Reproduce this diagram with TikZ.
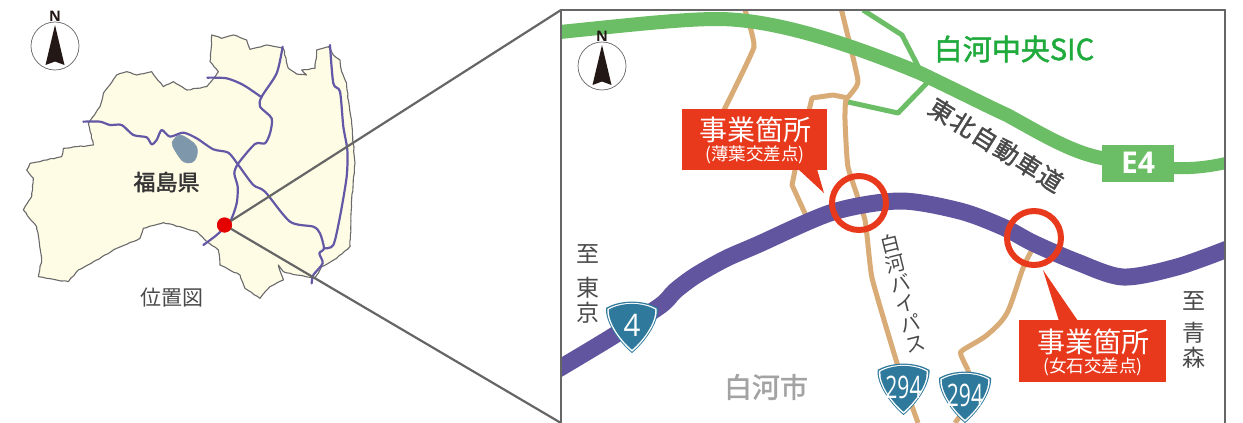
\documentclass[tikz,border=0pt]{standalone}
\usepackage{fontspec}
\usepackage{graphicx}
\setmainfont{Noto Sans CJK JP}
\newfontfamily\latinf{Open Sans}
\newfontfamily\cjkmed[FakeBold=1.6]{Noto Sans CJK JP}
\usetikzlibrary{decorations.pathmorphing}
\definecolor{prefyellow}{HTML}{FFFCE6}
\definecolor{coast}{HTML}{6A6A6A}
\definecolor{routeblue}{HTML}{6358A6}
\definecolor{lake}{HTML}{7F97AA}
\definecolor{framegray}{HTML}{666666}
\definecolor{egreen}{HTML}{6CBE66}
\definecolor{sicgreen}{HTML}{1FAA3C}
\definecolor{tan}{HTML}{D9AB76}
\definecolor{purplero}{HTML}{6155A0}
\definecolor{alert}{HTML}{E8391D}
\definecolor{shieldteal}{HTML}{2F7A9C}
\definecolor{arrowdark}{HTML}{231815}
\definecolor{txtdark}{HTML}{4A4A4A}
\definecolor{citygray}{HTML}{A3A3A3}
\def\shieldP{(-26,7) .. controls (-12,-1.5) and (12,-1.5) .. (26,7) .. controls (27,22) and (12,42) .. (0,52) .. controls (-12,42) and (-27,22) .. (-26,7) -- cycle}
\tikzset{
 x=1pt,y=-1pt,
 txt/.style={inner sep=0pt,outer sep=0pt,align=center},
 route/.style={routeblue,line width=2.2,line join=round,line cap=round},
 tanroad/.style={tan,line width=5,line join=round},
 ramp/.style={egreen,line width=5,line join=round},
 callout/.style={fill=alert},
 zoomline/.style={framegray,line width=2.2},
 compass/.pic={
   \draw[framegray,line width=.7,fill=white] (0,0) circle[radius=24];
   \fill[arrowdark] (0,-21) -- (9.5,19) -- (0,15.5) -- (-9.5,19) -- cycle;
   \node[txt,text=arrowdark,font=\latinf\bfseries\fontsize{14.5}{14.5}\selectfont] (-pic-n) at (0,-30) {N};
 },
 shield/.pic={
   \fill[shieldteal] \shieldP;
   \begin{scope}[shift={(0,26)},scale=.95,shift={(0,-26)}]\fill[white] \shieldP;\end{scope}
   \begin{scope}[shift={(0,25.5)},scale=.89,shift={(0,-26)}]\fill[shieldteal] \shieldP;\end{scope}
   \node[txt,text=white,font=\latinf\fontsize{31}{31}\selectfont] (-pic-t) at (0,24) {#1};
 },
}
\begin{document}
\begin{tikzpicture}
\useasboundingbox (0,0) rectangle (1243,423);
\fill[white] (0,0) rectangle (1243,423);
% --- location map ---
\begin{scope}[scale=1/3]
\path[draw=coast,fill=prefyellow,line width=1.1,line join=round,decorate,decoration={random steps,segment length=3.5,amplitude=.45}]
 (635,105) -- (665,115) -- (700,105) -- (740,120) -- (750,148) -- (800,135) -- (850,145) -- (865,205) -- (890,222) -- (920,225) -- (905,210) -- (945,205) -- (950,150) -- (985,140) -- (1000,165) -- (1020,180) -- (1025,215) -- (1040,250) -- (1045,300) -- (1055,370) -- (1065,490) -- (1055,600) -- (1050,740) -- (1010,775) -- (965,800) -- (945,835) -- (890,825) -- (850,815) -- (835,795) -- (850,840) -- (810,860) -- (780,895) -- (735,865) -- (720,825) -- (660,795) -- (655,750) -- (615,720) -- (590,695) -- (540,680) -- (490,668) -- (430,685) -- (420,715) -- (350,745) -- (290,780) -- (235,810) -- (205,845) -- (170,840) -- (115,830) -- (125,780) -- (110,680) -- (70,630) -- (95,590) -- (100,535) -- (80,510) -- (90,490) -- (185,470) -- (190,445) -- (280,435) -- (265,370) -- (300,320) -- (310,280) -- (350,225) -- (380,215) -- (410,225) -- (455,215) -- (490,260) -- (520,245) -- (560,270) -- (620,260) -- (655,215) -- (630,185) -- (635,130) -- cycle;
\fill[lake,draw=lake] plot[smooth cycle,tension=.6] coordinates {(520,420) (540,405) (570,420) (590,440) (590,470) (575,488) (550,485) (530,460) (517,435)};
\draw[route] plot[smooth,tension=.45] coordinates {(250,365) (300,365) (330,375) (365,375) (400,405) (440,412) (455,433) (470,420) (485,390) (510,410) (550,398) (590,415) (640,448) (685,458) (715,495) (760,555) (795,575) (870,665) (940,680) (960,700) (972,745) (958,760) (968,790) (940,825) (935,850)};
\draw[route] plot[smooth,tension=.45] coordinates {(848,140) (830,220) (785,290) (780,320) (815,355) (810,400) (795,430) (765,432) (715,490) (703,520) (713,560) (710,610) (690,665) (650,705) (610,735)};
\draw[route] plot[smooth,tension=.45] coordinates {(622,233) (680,235) (730,255) (785,292)};
\draw[route] plot[smooth,tension=.45] coordinates {(990,135) (1000,250) (1020,275) (1030,380) (1042,450) (1040,530) (1020,650) (1000,735) (972,745)};
\end{scope}
\pic (cl) at (55,46) {compass};
\node[txt,text=txtdark!70!black,font=\cjkmed\fontsize{22}{22}\selectfont] (pref) at (166.5,182) {福島県};
\node[txt,text=txtdark,font=\fontsize{21}{21}\selectfont] (loc) at (171.5,298) {位置図};
\coordinate (frameTL) at (561,10);
\coordinate (frameBL) at (561,423);
\node[circle,fill=red!90!black,minimum size=15,inner sep=0pt] (dot) at (224.5,225) {};
\draw[zoomline] (dot.center) -- (frameTL);
\draw[zoomline] (dot.center) -- (frameBL);
\node[circle,fill=red!90!black,minimum size=15,inner sep=0pt] at (dot) {};
% --- detail map ---
\begin{scope}
\clip (561,10) rectangle (1225,423);
\draw[tanroad] plot[smooth,tension=.2] coordinates {(745,10) (754,47) (723,112)};
\draw[tanroad] (848,98) -- (833,95) -- (812,98) -- (795,170) -- (792,185) -- (808,220);
\draw[ramp] (848,102) -- (898,113) -- (928,82);
\draw[ramp] (863,10) -- (902,35) -- (920,70);
\draw[tanroad] plot[smooth,tension=.25] coordinates {(841,8) (858,81) (846,100) (845,120) (848,167) (865,220) (872,278) (897,363) (918,423)};
\draw[tanroad] plot[smooth,tension=.5] coordinates {(1032,250) (1023,268) (1007,313) (987,335) (963,350) (961,355) (968,370)};
\draw[tanroad] (968,370) -- (975,395) -- (955,423);
\draw[egreen,line width=14] (555,32.5) .. controls (620,26) and (680,19) .. (717,19) .. controls (770,19) and (840,40) .. (920,73) .. controls (960,92) and (985,105) .. (1007,115) .. controls (1040,133) and (1075,155) .. (1108,159);
\draw[egreen,line width=12] (1170,168) .. controls (1190,169) and (1210,167) .. (1230,162);
\draw[purplero,line width=17] plot[smooth,tension=.5] coordinates {(555,371) (610,338) (660,306) (675,291) (695,276) (725,259) (757,245) (833,212) (900,201) (960,211) (1003,227) (1033,243) (1077,262) (1123,277) (1177,267) (1230,248)};
\end{scope}
\draw[framegray,line width=2.2] (frameBL) -- (frameTL) -- (1225,10) -- (1225,423);
\pic (cr) at (602,66) {compass};
\node[draw=alert,line width=6,circle,minimum size=54,inner sep=0pt] (ringA) at (859,203) {};
\node[draw=alert,line width=6,circle,minimum size=54,inner sep=0pt] (ringB) at (1034,238) {};
% callouts
\fill[callout] (798,169) -- (817,169) -- (824,193) -- cycle;
\node[callout,txt,minimum width=145,minimum height=61,text=white] (boxA) at (754.5,139.5) {};
\node[txt,text=white,font=\fontsize{28}{28}\selectfont] (boxAa) at (755,130) {事業箇所};
\node[txt,text=white,font=\fontsize{17.5}{17.5}\selectfont] (boxAb) at (755,155) {(薄葉交差点)};
\fill[callout] (1059,321) -- (1078,321) -- (1043,270) -- cycle;
\node[callout,txt,minimum width=147,minimum height=62,text=white] (boxB) at (1092.5,351) {};
\node[txt,text=white,font=\fontsize{28}{28}\selectfont] (boxBa) at (1093,342) {事業箇所};
\node[txt,text=white,font=\fontsize{17.5}{17.5}\selectfont] (boxBb) at (1093,367) {(女石交差点)};
% labels
\node[txt,text=sicgreen,font=\cjkmed\fontsize{29}{29}\selectfont] (sic) at (1014,49) {白河中央SIC};
\node[fill=egreen,minimum width=72,minimum height=37,inner sep=0pt] (e4box) at (1138,163.5) {};
\node[txt,text=white,font=\latinf\bfseries\fontsize{30}{30}\selectfont] (e4) at (1138,163) {E4};
\node[txt,text=txtdark,rotate=-32,font=\cjkmed\fontsize{24.5}{24.5}\selectfont] (tohoku) at (996,145) {\addfontfeature{LetterSpace=5}東北自動車道};
\node[txt,text=txtdark,rotate=14,font=\fontsize{20}{20.5}\selectfont] (bypass) at (903,293) {白\\河\\バ\\イ\\パ\\ス};
\node[txt,text=txtdark,font=\fontsize{23}{23}\selectfont] (to1a) at (588,254) {至};
\node[txt,text=txtdark,font=\fontsize{23}{25}\selectfont] (to1b) at (588,300) {東\\京};
\node[txt,text=txtdark,font=\fontsize{23}{23}\selectfont] (to2a) at (1194,301) {至};
\node[txt,text=txtdark,font=\fontsize{23}{25}\selectfont] (to2b) at (1194,345) {青\\森};
\node[txt,text=citygray,font=\cjkmed\fontsize{28}{28}\selectfont] (city) at (766,387) {白河市};
\pic (s4) at (632,301) {shield={\scalebox{.95}[1]{4}}};
\pic (s294a) at (903.5,363) {shield={\scalebox{.68}[1]{294}}};
\pic (s294b) at (965,371) {shield={\scalebox{.68}[1]{294}}};
\end{tikzpicture}
\end{document}
